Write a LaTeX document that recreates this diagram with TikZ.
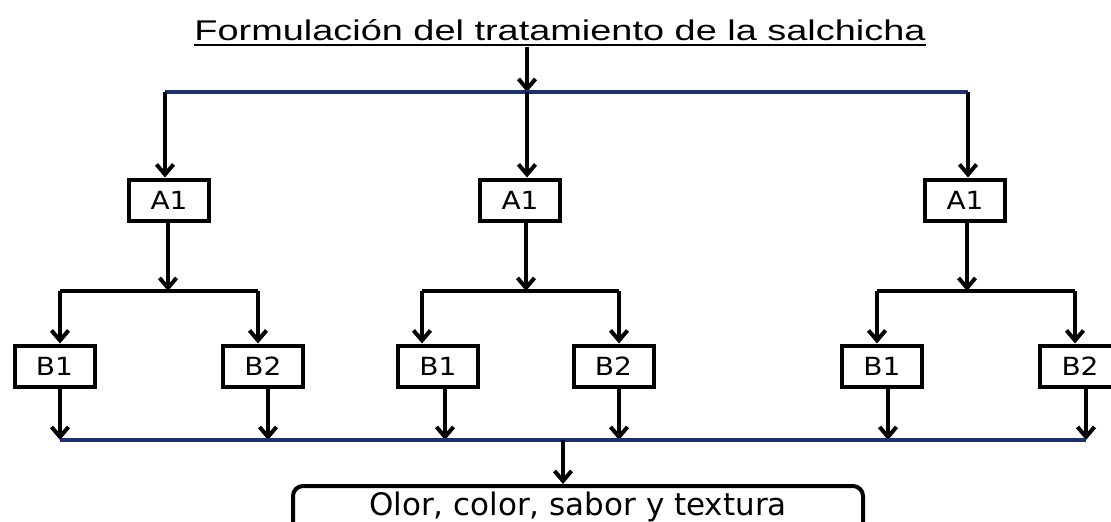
\documentclass[tikz,border=0pt]{standalone}
\usepackage{fontspec}
\usetikzlibrary{arrows.meta}
\setmainfont{DejaVu Sans}
\newfontfamily\titlefont[FakeStretch=1.33]{Liberation Sans}
\newfontfamily\boxfont[FakeStretch=1.12]{DejaVu Sans}
\definecolor{navy}{RGB}{28,48,110}
\begin{document}
\begin{tikzpicture}[x=1pt,y=-1pt,
  box/.style={draw,line width=4pt,minimum width=80pt,minimum height=41pt,inner sep=0pt,
    font=\boxfont\fontsize{25}{29}\selectfont},
  conn/.style={line width=4pt,-{Straight Barb[length=10pt,width=17pt]}},
  plain/.style={line width=4pt},
  bus/.style={line width=3.2pt,draw=navy}]
\useasboundingbox (0,0) rectangle (1111,522);
\clip (0,0) rectangle (1111,522);

% title
\node[font=\titlefont\fontsize{28.5}{32}\selectfont,inner sep=0pt,anchor=base] (title) at (560,40)
  {Formulación del tratamiento de la salchicha};
\draw[line width=2.2pt] ([yshift=-5pt]title.base west) -- ([yshift=-5pt]title.base east);

% top bus
\coordinate (t0) at (527,47);
\coordinate (j0) at (527,92);
\coordinate (bL) at (165,92);
\coordinate (bR) at (968,92);
\draw[conn] (t0) -- (j0);
\draw[bus] (bL) -- (bR);

% A boxes
\node[box] (AL) at (169,200) {A1};
\node[box] (AM) at (520,200) {A1};
\node[box] (AR) at (965,200) {A1};
\draw[conn] (bL) -- (bL |- AL.north);
\draw[conn] (j0) -- (j0 |- AM.north);
\draw[conn] (bR) -- (bR |- AR.north);

% branch lines
\coordinate (kL) at (168,291);
\coordinate (kM) at (526,291);
\coordinate (kR) at (967,291);
\draw[conn] (kL |- AL.south) -- (kL);
\draw[conn] (kM |- AM.south) -- (kM);
\draw[conn] (kR |- AR.south) -- (kR);
\coordinate (l1) at (60,291);   \coordinate (l2) at (258,291);
\coordinate (m1) at (422,291);  \coordinate (m2) at (619,291);
\coordinate (r1) at (877,291);  \coordinate (r2) at (1075,291);
\draw[plain] (l1) -- (l2);
\draw[plain] (m1) -- (m2);
\draw[plain] (r1) -- (r2);

% B boxes
\node[box] (LB1) at (54.5,366) {B1};
\node[box] (LB2) at (263,366) {B2};
\node[box] (MB1) at (438,366) {B1};
\node[box] (MB2) at (613.5,366) {B2};
\node[box] (RB1) at (882,366) {B1};
\node[box] (RB2) at (1080,366) {B2};
\draw[conn] (l1) -- (l1 |- LB1.north);
\draw[conn] (l2) -- (l2 |- LB2.north);
\draw[conn] (m1) -- (m1 |- MB1.north);
\draw[conn] (m2) -- (m2 |- MB2.north);
\draw[conn] (r1) -- (r1 |- RB1.north);
\draw[conn] (r2) -- (r2 |- RB2.north);

% bottom bus
\coordinate (o1) at (60,440);   \coordinate (o2) at (268,440);
\coordinate (o3) at (445,440);  \coordinate (o4) at (619,440);
\coordinate (o5) at (888,440);  \coordinate (o6) at (1086,440);
\draw[conn] (o1 |- LB1.south) -- (o1);
\draw[conn] (o2 |- LB2.south) -- (o2);
\draw[conn] (o3 |- MB1.south) -- (o3);
\draw[conn] (o4 |- MB2.south) -- (o4);
\draw[conn] (o5 |- RB1.south) -- (o5);
\draw[conn] (o6 |- RB2.south) -- (o6);
\draw[bus] (o1) -- (o6);

% result
\node[draw,line width=4pt,rounded corners=10pt,minimum width=570pt,anchor=north,
  text height=22pt,text depth=40pt,inner ysep=7pt,inner xsep=0pt,
  font=\fontsize{31}{37}\selectfont] (res) at (578,484) {Olor, color, sabor y textura};
\coordinate (q0) at (563,440);
\draw[conn] (q0) -- (q0 |- res.north);
\end{tikzpicture}
\end{document}
